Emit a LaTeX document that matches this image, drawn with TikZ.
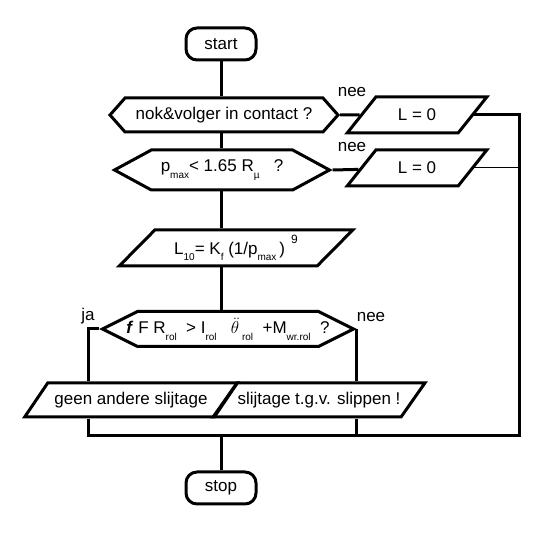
\documentclass[tikz,border=0pt]{standalone}
\usepackage{fontspec}
\setmainfont{Liberation Sans}
\usetikzlibrary{shapes.geometric,shapes.symbols}
\newcommand{\lo}[1]{\raisebox{-0.7ex}{\fontsize{10}{10}\selectfont #1}}
\begin{document}
\begin{tikzpicture}[x=1pt,y=-1pt]
      \tikzstyle{every node}=[font=\fontsize{17}{19}\selectfont]
      \tikzstyle{term}=[draw,line width=3pt,rounded corners=11pt,minimum width=70pt,minimum height=32pt]
      \tikzstyle{test}=[draw,line width=3pt,shape=signal,signal to=west and east,inner sep=1pt]
      \tikzstyle{io}=[draw,line width=3pt,trapezium,trapezium left angle=45,trapezium right angle=135,trapezium stretches=true,inner sep=1pt]
      \tikzstyle{flow}=[draw,line width=3pt]
      \useasboundingbox (0,0) rectangle (547,534);
      \node[term] (S) at (221,44) {start};
      \node[test,minimum width=228pt,minimum height=34pt,signal pointer angle=97] (D1) at (224,115) {nok\&volger in contact ?};
      \node[test,minimum width=215pt,minimum height=40pt,signal pointer angle=57,inner xsep=-8pt] (D2) at (222,170) {p\lo{max}< 1.65 R\lo{µ}\ \ \ ?};
      \node[io,minimum width=140pt,minimum height=36pt] (N1) at (417,115) {L = 0};
      \node[io,minimum width=140pt,minimum height=36pt] (N2) at (417,168) {L = 0};
      \node[io,minimum width=234pt,minimum height=36pt] (L) at (236,248) {L\lo{10}= K\lo{f}\ (1/p\lo{max}\,)\,\raisebox{1.2ex}{\fontsize{12}{12}\selectfont\ 9}};
      \node[test,minimum width=251pt,minimum height=35pt,signal pointer angle=53,inner xsep=-20pt] (D3) at (228,329) {\textbf{\textit{f}} F R\lo{rol}\ \ > I\lo{rol}\ \ \ $\ddot{\theta}$\,\lo{rol}\ \ +M\lo{wr.rol}\ \ ?};
      \node[io,minimum width=213pt,minimum height=34pt,inner xsep=-12pt] (G) at (131,400) {geen andere slijtage};
      \node[io,minimum width=212pt,minimum height=34pt,inner xsep=-20pt] (P) at (319,400) {slijtage t.g.v. slippen !};
      \node[term] (E) at (221,488) {stop};
      \node (n1) at (352,92) {nee};
      \node (n2) at (352,147) {nee};
      \node (n3) at (371,317) {nee};
      \node (j) at (88,316) {ja};
      \coordinate (ja) at (88,329);
      \coordinate (jn) at (221,436);
      \coordinate (rb) at (519,436);
      \path[flow] (S) -- (S |- D1.north);
      \path[flow] (S |- D1.south) -- (S |- D2.north);
      \path[flow] (S |- D2.south) -- (S |- L.north);
      \path[flow] (S |- L.south) -- (S |- D3.north);
      \path[flow] (D1.east) -- (N1);
      \path[flow] (D2.east) -- (N2);
      \path[flow] (N1.east) -| (rb) -- (jn);
      \path[draw,line width=1pt] (N2.east) -- (N2.east -| rb);
      \path[flow] (D3.west) -- (ja) -- (ja |- G.north);
      \path[flow] (D3.east) -- (D3.east |- P.north);
      \path[flow] (ja |- G.south) |- (jn);
      \path[flow] (D3.east |- P.south) -- (D3.east |- jn);
      \path[flow] (jn) -- (E);
    \end{tikzpicture}
\end{document}
